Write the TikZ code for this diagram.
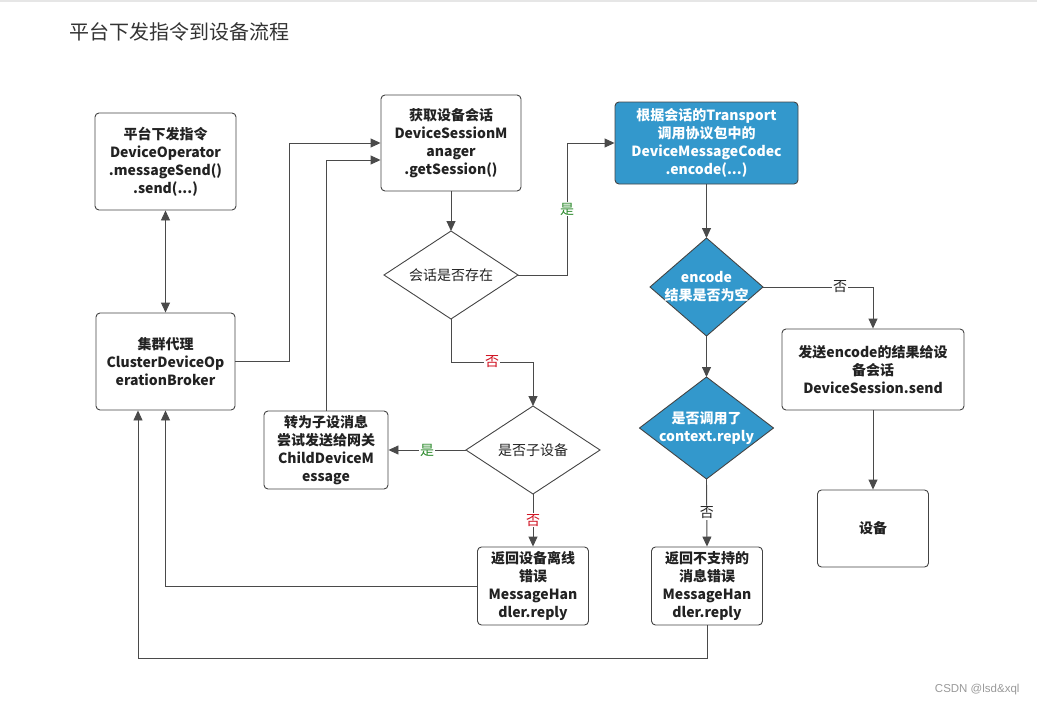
\documentclass[tikz,border=0pt]{standalone}
\usepackage{fontspec}
\setmainfont{Noto Sans CJK SC}
\newfontfamily\wmfont{Liberation Sans}
\usetikzlibrary{arrows.meta,shapes.geometric,calc}
\definecolor{linec}{HTML}{4A4A4A}
\definecolor{boxc}{HTML}{444444}
\definecolor{txtc}{HTML}{222222}
\definecolor{bluec}{HTML}{3398CC}
\definecolor{yesc}{HTML}{2E8B2E}
\definecolor{noc}{HTML}{D01020}
\tikzset{
  box/.style={draw=boxc, line width=0.9pt, rounded corners=4pt, fill=white, align=center,
    text=txtc, font=\fontsize{14}{18}\selectfont\bfseries, inner sep=2pt},
  bluebox/.style={box, fill=bluec, text=white},
  dia/.style={draw=boxc, line width=0.9pt, diamond, inner sep=0pt, outer sep=0pt},
  bluedia/.style={dia, fill=bluec},
  dtext/.style={align=center, text=txtc, font=\fontsize{14}{18}\selectfont, inner sep=0pt},
  bluedtext/.style={dtext, text=white, font=\fontsize{14}{18}\selectfont\bfseries},
  arr/.style={draw=linec, line width=0.9pt, -{Triangle[length=10pt,width=9pt]}},
  darr/.style={draw=linec, line width=0.9pt, {Triangle[length=10pt,width=9pt]}-{Triangle[length=10pt,width=9pt]}},
  lbl/.style={fill=white, inner sep=1pt, font=\fontsize{14}{16}\selectfont},
}
\begin{document}
\begin{tikzpicture}[x=1pt, y=-1pt]
\useasboundingbox (0,0) rectangle (1037,707);
\draw[color={rgb,255:red,230;green,230;blue,230}, line width=2pt] (0,1) -- (1037,1);
\node[anchor=west, font=\fontsize{20}{24}\selectfont, text={rgb,255:red,51;green,51;blue,51}] (title) at (66,32) {平台下发指令到设备流程};

\node[box, minimum width=141pt, minimum height=97pt] (N1) at (165.5,161.5) {平台下发指令\\DeviceOperator\\.messageSend()\\.send(...)};
\node[box, minimum width=139pt, minimum height=97pt] (N2) at (165.5,361.5) {集群代理\\ClusterDeviceOp\\erationBroker};
\node[box, minimum width=140pt, minimum height=96pt] (N3) at (451,143) {获取设备会话\\DeviceSessionM\\anager\\.getSession()};
\node[bluebox, minimum width=183pt, minimum height=82pt] (N4) at (706.5,143) {根据会话的Transport\\调用协议包中的\\DeviceMessageCodec\\.encode(...)};
\node[dia, minimum width=134pt, minimum height=88pt] (D1) at (451,275) {};
\node[dtext] (D1t) at (D1.center) {会话是否存在};
\node[dia, minimum width=134pt, minimum height=88pt] (D2) at (533,450) {};
\node[dtext] (D2t) at (D2.center) {是否子设备};
\node[box, minimum width=124pt, minimum height=78pt] (N5) at (326,450) {转为子设消息\\尝试发送给网关\\ChildDeviceM\\essage};
\node[box, minimum width=111pt, minimum height=78pt] (N6) at (533,586) {返回设备离线\\错误\\MessageHan\\dler.reply};
\node[bluedia, minimum width=113pt, minimum height=98pt] (D3) at (706.5,287) {};
\node[bluedtext] (D3t) at (D3.center) {encode\\结果是否为空};
\node[bluedia, minimum width=134pt, minimum height=102pt] (D4) at (706.5,428) {};
\node[bluedtext] (D4t) at (D4.center) {是否调用了\\context.reply};
\node[box, minimum width=182pt, minimum height=81pt] (N7) at (873,369.5) {发送encode的结果给设\\备会话\\DeviceSession.send};
\node[box, minimum width=111pt, minimum height=77pt] (N8) at (873,528.5) {设备};
\node[box, minimum width=111pt, minimum height=78pt] (N9) at (707,586) {返回不支持的\\消息错误\\MessageHan\\dler.reply};

\draw[darr] (N1.south) -- (N2.north);
\draw[arr] (N2.east) -- ++(54,0) |- (N3.west);
\draw[arr] (N5.north) |- ([yshift=-17pt]N3.west);
\draw[arr] (N3.south) -- (D1.north);
\draw[arr] (D1.east) -- ++(49,0) |- node[pos=0.25, lbl, text=yesc] {是} (N4.west);
\draw[arr] (D1.south) -- ++(0,43) -| node[pos=0.25, lbl, text=noc] {否} (D2.north);
\draw[arr] (D2.west) -- node[lbl, text=yesc] {是} (N5.east);
\draw[arr] (D2.south) -- node[lbl, text=noc] {否} (N6.north);
\draw[arr] (N6.west) -| (N2.south);
\draw[arr] (N9.south) -- ++(0,33) -| ([xshift=-27.5pt]N2.south);
\draw[arr] (N4.south) -- (D3.north);
\draw[arr] (D3.east) -| node[pos=0.35, lbl, text=txtc] {否} (N7.north);
\draw[arr] (D3.south) -- (D4.north);
\draw[arr] (D4.south) -- node[lbl, text=txtc] {否} (N9.north);
\draw[arr] (N7.south) -- (N8.north);

\node[anchor=east, font=\wmfont\fontsize{11.5}{13}\selectfont, text={rgb,255:red,153;green,153;blue,153}] (wm) at (1023,690) {CSDN @lsd\&xql};
\end{tikzpicture}
\end{document}
